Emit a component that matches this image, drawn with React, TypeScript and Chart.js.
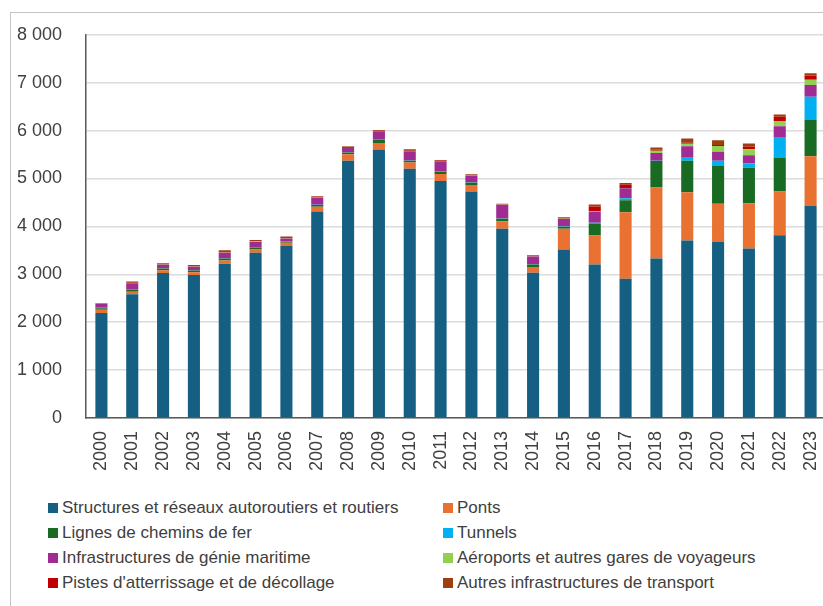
import React, { useEffect, useRef } from "react";
import { Chart, registerables } from "chart.js";

Chart.register(...registerables);

const years = ["2000","2001","2002","2003","2004","2005","2006","2007","2008","2009","2010","2011","2012","2013","2014","2015","2016","2017","2018","2019","2020","2021","2022","2023"];

const seriesLabels = [
  "Structures et réseaux autoroutiers et routiers",
  "Ponts",
  "Lignes de chemins de fer",
  "Tunnels",
  "Infrastructures de génie maritime",
  "Aéroports et autres gares de voyageurs",
  "Pistes d'atterrissage et de décollage",
  "Autres infrastructures de transport",
];

const road = [2190, 2585, 3027, 2985, 3220, 3450, 3590, 4312, 5369, 5604, 5203, 4948, 4727, 3953, 3033, 3518, 3207, 2909, 3331, 3704, 3676, 3538, 3814, 4429];
const ponts = [70, 50, 55, 60, 70, 70, 70, 100, 138, 138, 131, 145, 138, 152, 117, 435, 601, 1389, 1479, 1008, 795, 946, 912, 1036];
const rail = [30, 35, 40, 35, 40, 30, 20, 35, 35, 70, 35, 48, 48, 55, 55, 40, 242, 249, 553, 656, 788, 739, 711, 767];
const tunnels = [10, 5, 5, 5, 5, 5, 5, 5, 5, 5, 5, 5, 5, 5, 5, 12, 28, 41, 10, 83, 110, 90, 428, 477];
const maritime = [80, 140, 70, 75, 115, 120, 60, 145, 112, 168, 195, 216, 140, 285, 161, 150, 230, 207, 158, 220, 187, 170, 225, 242];
const aeroports = [5, 5, 5, 5, 5, 10, 10, 5, 5, 5, 5, 5, 5, 5, 5, 5, 10, 5, 48, 55, 124, 130, 110, 110];
const pistes = [5, 5, 5, 5, 5, 5, 5, 5, 5, 5, 5, 5, 5, 5, 5, 5, 100, 69, 20, 20, 20, 50, 90, 90];
const autres = [10, 25, 25, 25, 40, 25, 30, 20, 10, 15, 30, 15, 23, 15, 15, 25, 40, 35, 50, 90, 97, 67, 48, 48];

const seriesValues = [road, ponts, rail, tunnels, maritime, aeroports, pistes, autres];
const seriesColors = ["#156082", "#E97132", "#196B24", "#00B0F0", "#A02B93", "#92D050", "#C00000", "#9E3F0E"];

const yTicks = [0, 1000, 2000, 3000, 4000, 5000, 6000, 7000, 8000];

const FONT = "'Liberation Sans', Arial, sans-serif";

function fmt(v: number): string {
  const s = String(Math.round(v));
  return s.replace(/\B(?=(\d{3})+(?!\d))/g, " ");
}

export default function App() {
  const ref = useRef<HTMLCanvasElement | null>(null);

  useEffect(() => {
    document.body.style.margin = "0";
    const canvas = ref.current;
    if (!canvas) return;
    const chart = new Chart(canvas, {
      type: "bar",
      data: {
        labels: years,
        datasets: seriesLabels.map((label, i) => ({
          label,
          data: seriesValues[i],
          backgroundColor: seriesColors[i],
          borderWidth: 0,
          categoryPercentage: 0.8,
          barPercentage: 0.49,
        })),
      },
      options: {
        animation: false,
        responsive: false,
        maintainAspectRatio: false,
        layout: { padding: { top: 32, left: 0, right: 0, bottom: 0 } },
        plugins: {
          legend: { display: false },
          tooltip: { enabled: false },
        },
        scales: {
          x: {
            stacked: true,
            grid: { display: false, drawTicks: false },
            border: { display: true, color: "#595959", width: 1.5 },
            ticks: {
              maxRotation: 90,
              minRotation: 90,
              padding: 13,
              color: "#404040",
              font: { family: FONT, size: 18 },
            },
            afterFit: (s: any) => {
              s.height = 72;
              s.paddingLeft = 0;
              s.paddingRight = 0;
            },
          },
          y: {
            stacked: true,
            min: 0,
            max: 8000,
            afterBuildTicks: (s: any) => {
              s.ticks = yTicks.map((v) => ({ value: v }));
            },
            ticks: {
              padding: 24,
              color: "#404040",
              font: { family: FONT, size: 18 },
              callback: (v: any) => fmt(Number(v)),
            },
            grid: { color: "#dcdcdc", lineWidth: 1.5, drawTicks: false },
            border: { display: true, color: "#595959", width: 1.5 },
            afterFit: (s: any) => {
              s.width = 86;
            },
          },
        },
      },
    });
    return () => chart.destroy();
  }, []);

  const rows = [0, 1, 2, 3];
  return (
    <div style={{ position: "relative", width: 823, height: 606, overflow: "hidden", background: "#fff" }}>
      <div
        style={{
          position: "absolute",
          left: 10,
          top: 12,
          width: 820,
          height: 600,
          borderTop: "1px solid #c4c4c4",
          borderLeft: "1px solid #c4c4c4",
        }}
      />
      <canvas ref={ref} width={826} height={490} style={{ position: "absolute", left: 0, top: 0, width: 826, height: 490 }} />
      {rows.map((r) =>
        [0, 1].map((c) => {
          const i = r * 2 + c;
          return (
            <div
              key={i}
              style={{
                position: "absolute",
                left: c === 0 ? 48 : 443,
                top: 495 + r * 25,
                height: 25,
                display: "flex",
                alignItems: "center",
                fontFamily: FONT,
                fontSize: 17,
                color: "#404040",
                whiteSpace: "nowrap",
              }}
            >
              <span style={{ display: "inline-block", width: 10, height: 10, background: seriesColors[i], marginRight: 4 }} />
              <span>{seriesLabels[i]}</span>
            </div>
          );
        })
      )}
    </div>
  );
}
